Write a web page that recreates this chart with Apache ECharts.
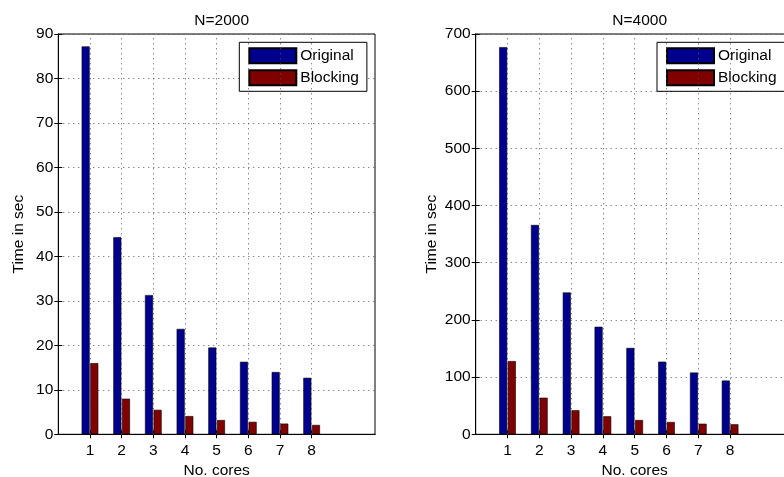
<!DOCTYPE html>
<html>
<head>
<meta charset="utf-8">
<script src="https://cdn.jsdelivr.net/npm/echarts@6/dist/echarts.min.js"></script>
<style>
  html, body { margin: 0; padding: 0; background: #fff; }
  #main { width: 784px; height: 477px; }
</style>
</head>
<body>
<div id="main"></div>
<script>
// data
var cores = [1, 2, 3, 4, 5, 6, 7, 8];
var original2000 = [87.2, 44.3, 31.3, 23.7, 19.5, 16.3, 14.0, 12.7];
var blocking2000 = [16.0, 8.0, 5.5, 4.1, 3.2, 2.8, 2.4, 2.1];
var original4000 = [677, 366, 248, 188, 151, 127, 108, 94];
var blocking4000 = [128, 64, 42, 31.5, 25, 21.5, 18.5, 17.5];
var yTicks2000 = [0, 90, 10];   // min, max, step
var yTicks4000 = [0, 700, 100];

var FONT = 'Liberation Sans';
var FS = 15.5;
var BLUE = '#00008f';
var RED = '#800000';
var GRIDLINE = {color: '#555', type: [1, 4], width: 1};

var myChart = echarts.init(document.getElementById('main'));

function pairs(vals) {
    return cores.map(function (c, i) { return [c, vals[i]]; });
}

var grids = [
    {left: 58.3, top: 34, width: 316.7, height: 400.3},
    {left: 475.7, top: 34, width: 318, height: 400.3}
];
var titles = ['N=2000', 'N=4000'];
var yRanges = [yTicks2000, yTicks4000];
var seriesVals = [[original2000, blocking2000], [original4000, blocking4000]];
var legendLeft = [239.3, 657];

var option = {
    animation: false,
    backgroundColor: '#fff',
    textStyle: {fontFamily: FONT},
    title: [],
    legend: [],
    grid: [],
    xAxis: [],
    yAxis: [],
    series: []
};

grids.forEach(function (g, k) {
    option.grid.push({
        left: g.left, top: g.top, width: g.width, height: g.height,
        outerBoundsMode: 'none', containLabel: false,
        show: true, borderColor: '#000', borderWidth: 1, backgroundColor: '#fff'
    });
    option.title.push({
        text: titles[k],
        left: g.left + g.width / 2, top: 8, textAlign: 'center',
        textStyle: {fontFamily: FONT, fontSize: FS, fontWeight: 'normal', color: '#000'}
    });
    // bottom x axis
    option.xAxis.push({
        type: 'value', gridIndex: k, min: 0, max: 10, interval: 1,
        name: 'No. cores', nameLocation: 'middle', nameGap: 23,
        nameTextStyle: {fontFamily: FONT, fontSize: FS, color: '#000'},
        axisLine: {show: true, lineStyle: {color: '#000', width: 1}},
        axisTick: {show: true, inside: true, length: 4, customValues: cores, lineStyle: {color: '#000'}},
        axisLabel: {customValues: cores, fontFamily: FONT, fontSize: FS, color: '#000', margin: 8},
        splitLine: {show: false}
    });
    // top x axis (ticks only)
    option.xAxis.push({
        type: 'value', gridIndex: k, min: 0, max: 10, interval: 1, position: 'top',
        axisLine: {show: true, lineStyle: {color: '#000'}},
        axisTick: {show: true, inside: true, length: 4, customValues: cores, lineStyle: {color: '#000'}},
        axisLabel: {show: false},
        splitLine: {show: false}
    });
    var yr = yRanges[k];
    option.yAxis.push({
        type: 'value', gridIndex: k, min: yr[0], max: yr[1], interval: yr[2],
        name: 'Time in sec', nameLocation: 'middle', nameGap: k === 0 ? 32 : 36,
        nameTextStyle: {fontFamily: FONT, fontSize: FS, color: '#000'},
        axisLine: {show: true, lineStyle: {color: '#000'}},
        axisTick: {show: true, inside: true, length: 4, lineStyle: {color: '#000'}},
        axisLabel: {fontFamily: FONT, fontSize: FS, color: '#000', margin: 5},
        splitLine: {show: true, lineStyle: GRIDLINE}
    });
    option.yAxis.push({
        type: 'value', gridIndex: k, min: yr[0], max: yr[1], interval: yr[2], position: 'right',
        axisLine: {show: true, lineStyle: {color: '#000'}},
        axisTick: {show: true, inside: true, length: 4, lineStyle: {color: '#000'}},
        axisLabel: {show: false},
        splitLine: {show: false}
    });
    // vertical grid lines only at the labelled core counts
    option.series.push({
        type: 'line', xAxisIndex: k * 2, yAxisIndex: k * 2, data: [], z: 1, silent: true,
        markLine: {
            silent: true, symbol: 'none', label: {show: false},
            lineStyle: GRIDLINE, animation: false,
            data: cores.map(function (c) { return {xAxis: c}; })
        }
    });
    var names = ['Original', 'Blocking'];
    var colors = [BLUE, RED];
    names.forEach(function (nm, s) {
        option.series.push({
            name: nm, type: 'bar',
            xAxisIndex: k * 2, yAxisIndex: k * 2,
            data: pairs(seriesVals[k][s]),
            barWidth: 8, barGap: '8%', z: 3,
            itemStyle: {color: colors[s], borderColor: '#000', borderWidth: 0.6}
        });
    });
    option.legend.push({
        data: names,
        orient: 'vertical',
        left: legendLeft[k], top: 42.3,
        itemWidth: 47, itemHeight: 15, itemGap: 5,
        padding: [5, 8, 5, 9],
        borderColor: '#000', borderWidth: 1, borderRadius: 0,
        backgroundColor: '#fff',
        selectedMode: false,
        icon: 'rect',
        textStyle: {fontFamily: FONT, fontSize: FS, color: '#000', lineHeight: 15, padding: [0, 0, 0, -1]}
    });
});

myChart.setOption(option);
</script>
</body>
</html>
